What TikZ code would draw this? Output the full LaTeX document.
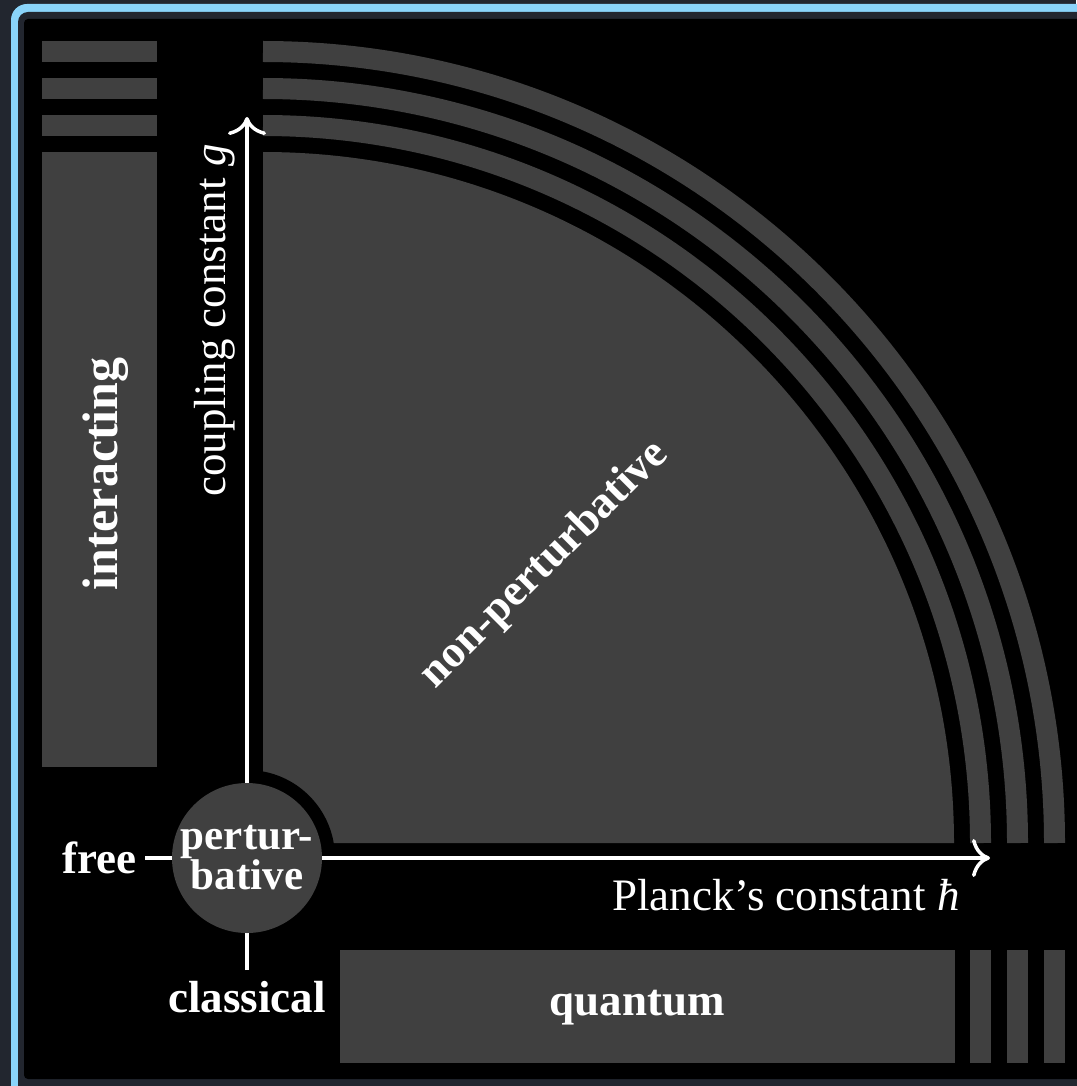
\documentclass[tikz,border=0pt]{standalone}
\usepackage{fontspec}
\setmainfont{Liberation Serif}
\usetikzlibrary{arrows.meta}
\definecolor{outerbg}{RGB}{34,38,47}
\definecolor{frameblue}{RGB}{138,212,250}
\definecolor{region}{RGB}{64,64,64}
\begin{document}
\begin{tikzpicture}[x=1pt,y=-1pt,
  zone/.style={fill=region},
  ring/.style={draw=region, line width=21pt},
  axis/.style={draw=white, line width=3.5pt, -{Computer Modern Rightarrow[length=18pt,width=38pt]}},
  lab/.style={text=white, inner sep=0pt, font=\fontsize{45}{54}\selectfont},
  blab/.style={text=white, inner sep=0pt, font=\fontsize{45}{54}\selectfont\bfseries}]
\useasboundingbox (0,0) rectangle (1076,1086);
% frame
\fill[outerbg] (0,0) rectangle (1076,1086);
\fill[frameblue, rounded corners=16pt] (11,4) rectangle (1140,1140);
\fill[outerbg, rounded corners=10pt] (18,12) rectangle (1140,1140);
\fill[black, rounded corners=4pt] (24,19) rectangle (1140,1079);
% left bars (coupling)
\fill[zone] (42,41) rectangle (157,62);
\fill[zone] (42,78) rectangle (157,99);
\fill[zone] (42,115) rectangle (157,136);
\fill[zone] (42,152) rectangle (157,767);
% bottom bars (hbar)
\fill[zone] (340,950) rectangle (955,1063);
\fill[zone] (970,950) rectangle (991,1063);
\fill[zone] (1007,950) rectangle (1028,1063);
\fill[zone] (1044,950) rectangle (1065,1063);
% quarter disc and rings
\fill[zone] (263,843) -- (954,843) arc[start angle=0, end angle=-90, radius=691] -- cycle;
\draw[ring] (980.5,843) arc[start angle=0, end angle=-90, radius=717.5];
\draw[ring] (1017.5,843) arc[start angle=0, end angle=-90, radius=754.5];
\draw[ring] (1054.5,843) arc[start angle=0, end angle=-90, radius=791.5];
% notch
\fill[black] (247,858) circle[radius=88];
% axes
\coordinate (vbot) at (247,970);
\coordinate (vtip) at (247,117);
\coordinate (hstart) at (145,858);
\coordinate (htip) at (990,858);
\draw[axis] (vbot) -- (vtip);
\draw[axis] (hstart) -- (htip);
\node[circle, fill=region, minimum size=150pt, inner sep=0pt, text=white, align=center,
      font=\fontsize{43}{34}\selectfont\bfseries] (pert) at (247,858) {pertur-\\bative};
% labels
\node[blab, anchor=base east] (free) at (137,873) {free};
\node[blab, anchor=base] (classical) at (247,1012) {classical};
\node[blab, anchor=base] (quantum) at (637,1015) {quantum};
\node[lab, anchor=base west] (planck) at (612,910) {Planck’s constant \textit{ħ}};
\node[lab, anchor=base west, rotate=90] (coupling) at (225,497) {coupling constant \textit{g}};
\node[text=white, inner sep=0pt, font=\fontsize{50}{60}\selectfont\bfseries, anchor=base, rotate=90] (interacting) at (117,474) {interacting};
\node[blab, rotate=45] (nonpert) at (545,565) {non-perturbative};
\end{tikzpicture}
\end{document}
